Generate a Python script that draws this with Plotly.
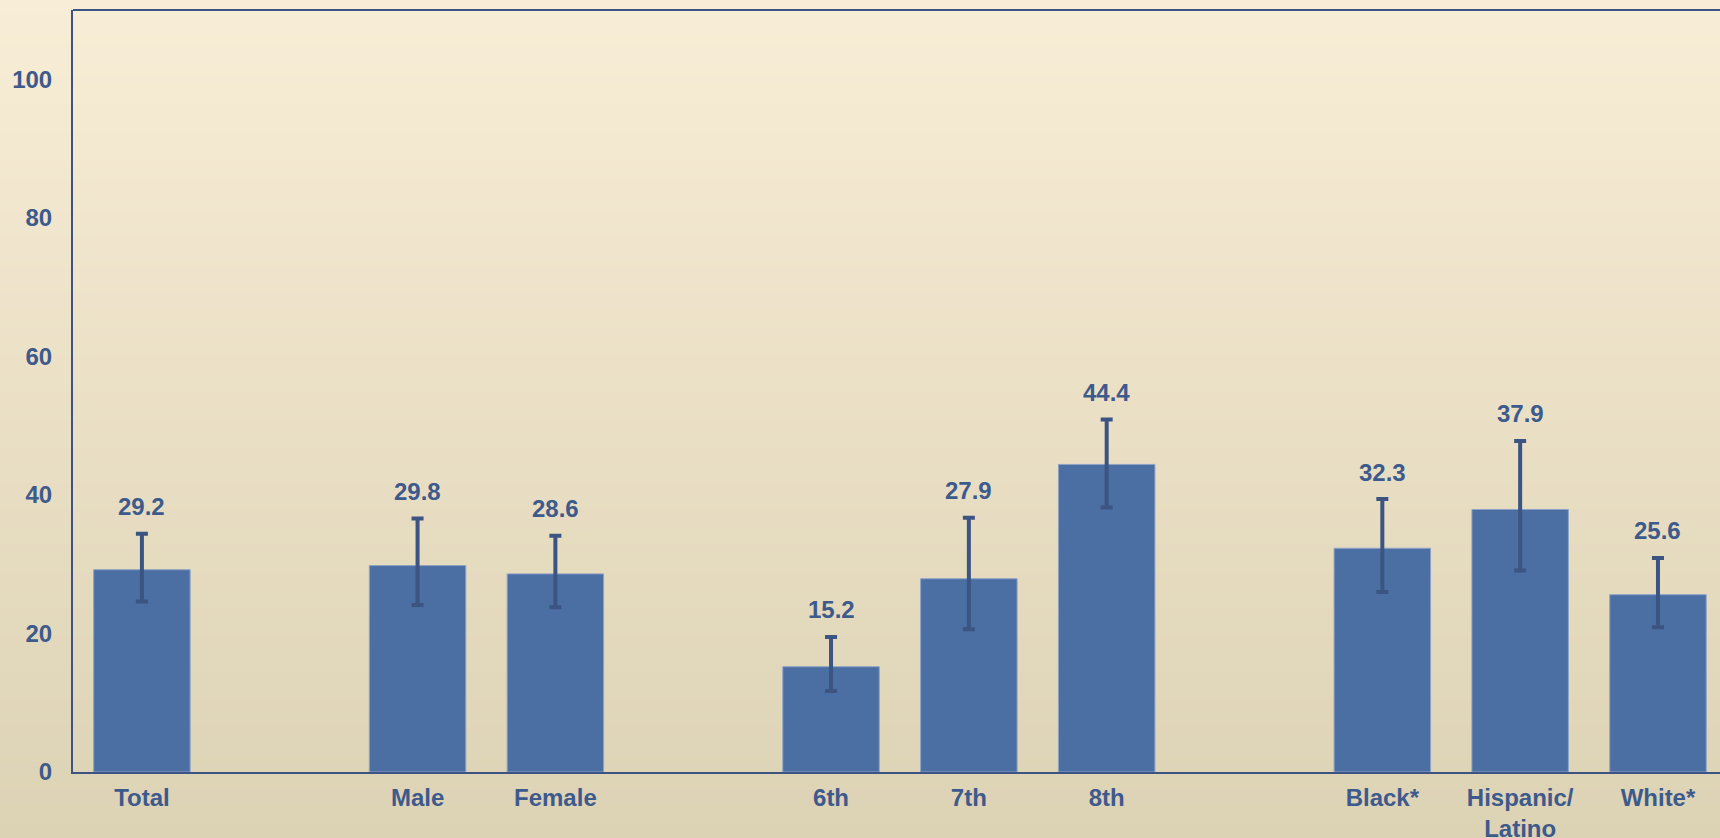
import plotly.graph_objects as go

categories = ["Total", " ", "Male", "Female", "  ", "6th", "7th", "8th", "   ",
              "Black*", "Hispanic/<br>Latino", "White*"]
values = [29.2, None, 29.8, 28.6, None, 15.2, 27.9, 44.4, None, 32.3, 37.9, 25.6]
ci_upper = [34.4, None, 36.6, 34.1, None, 19.5, 36.7, 50.9, None, 39.4, 47.8, 30.9]
ci_lower = [24.6, None, 24.1, 23.8, None, 11.7, 20.6, 38.2, None, 26.0, 29.1, 20.9]
y_ticks = [0, 20, 40, 60, 80, 100]

BAR = "#4B6EA3"
ERR = "#3B5482"
TXT = "#3D5A8C"
FONT = "Liberation Sans, Arial, sans-serif"

err_plus = [(u - v) if v is not None else None for u, v in zip(ci_upper, values)]
err_minus = [(v - l) if v is not None else None for l, v in zip(ci_lower, values)]

fig = go.Figure()
fig.add_trace(go.Bar(
    x=categories, y=values,
    marker=dict(color=BAR, line=dict(color="#8EA3C6", width=1)),
    error_y=dict(type="data", array=err_plus, arrayminus=err_minus,
                 color=ERR, thickness=4, width=6, visible=True),
    hoverinfo="x+y",
))

annotations = []
for c, v, u in zip(categories, values, ci_upper):
    if v is None:
        continue
    annotations.append(dict(
        x=c, y=u, xref="x", yref="y", text=f"{v:.1f}", showarrow=False,
        yanchor="middle", yshift=27,
        font=dict(family=FONT, size=24, color=TXT, weight="bold"),
    ))

# background gradient bands (paper coords)
W, H = 1720, 838
ml, mr, mt, mb = 73, 0, 10, 66
pw, ph = W - ml - mr, H - mt - mb
top_c = (248, 237, 214)
bot_c = (220, 210, 180)
N = 120
shapes = []
for i in range(N):
    t0 = i / N
    t1 = (i + 1) / N
    tm = (t0 + t1) / 2
    col = tuple(round(top_c[k] + (bot_c[k] - top_c[k]) * tm) for k in range(3))
    ypx0 = t0 * H
    ypx1 = t1 * H + 1
    shapes.append(dict(
        type="rect", xref="paper", yref="paper", layer="below",
        x0=-ml / pw, x1=1 + 10 / pw,
        y0=1 - (ypx1 - mt) / ph, y1=1 - (ypx0 - mt) / ph,
        fillcolor="rgb(%d,%d,%d)" % col, line=dict(width=0),
    ))
# top border line
shapes.append(dict(type="line", xref="paper", yref="paper", x0=0, x1=1.01, y0=1, y1=1,
                   line=dict(color=ERR, width=2)))

fig.update_layout(
    width=W, height=H,
    margin=dict(l=ml, r=mr, t=mt, b=mb, pad=0, autoexpand=False),
    paper_bgcolor="rgba(0,0,0,0)",
    plot_bgcolor="rgba(0,0,0,0)",
    showlegend=False,
    bargap=0.30,
    shapes=shapes,
    annotations=annotations,
    font=dict(family=FONT, color=TXT),
    xaxis=dict(
        type="category", range=[-0.5, 11.45], automargin=False,
        showline=True, linecolor=ERR, linewidth=2,
        showgrid=False, ticks="", ticklabelstandoff=3,
        tickfont=dict(family=FONT, size=24, color=TXT, weight="bold"),
        fixedrange=True,
    ),
    yaxis=dict(
        range=[0, 110], tickvals=y_ticks, automargin=False,
        showline=True, linecolor=ERR, linewidth=2,
        showgrid=False, zeroline=False, ticks="", ticklabelstandoff=14,
        tickfont=dict(family=FONT, size=24, color=TXT, weight="bold"),
        fixedrange=True,
    ),
)

fig.write_html(
    "out.html",
    config={"displayModeBar": False},
    post_script="document.body.style.margin='0';document.body.style.overflow='hidden';document.body.style.background='#DCD2B4';",
)
